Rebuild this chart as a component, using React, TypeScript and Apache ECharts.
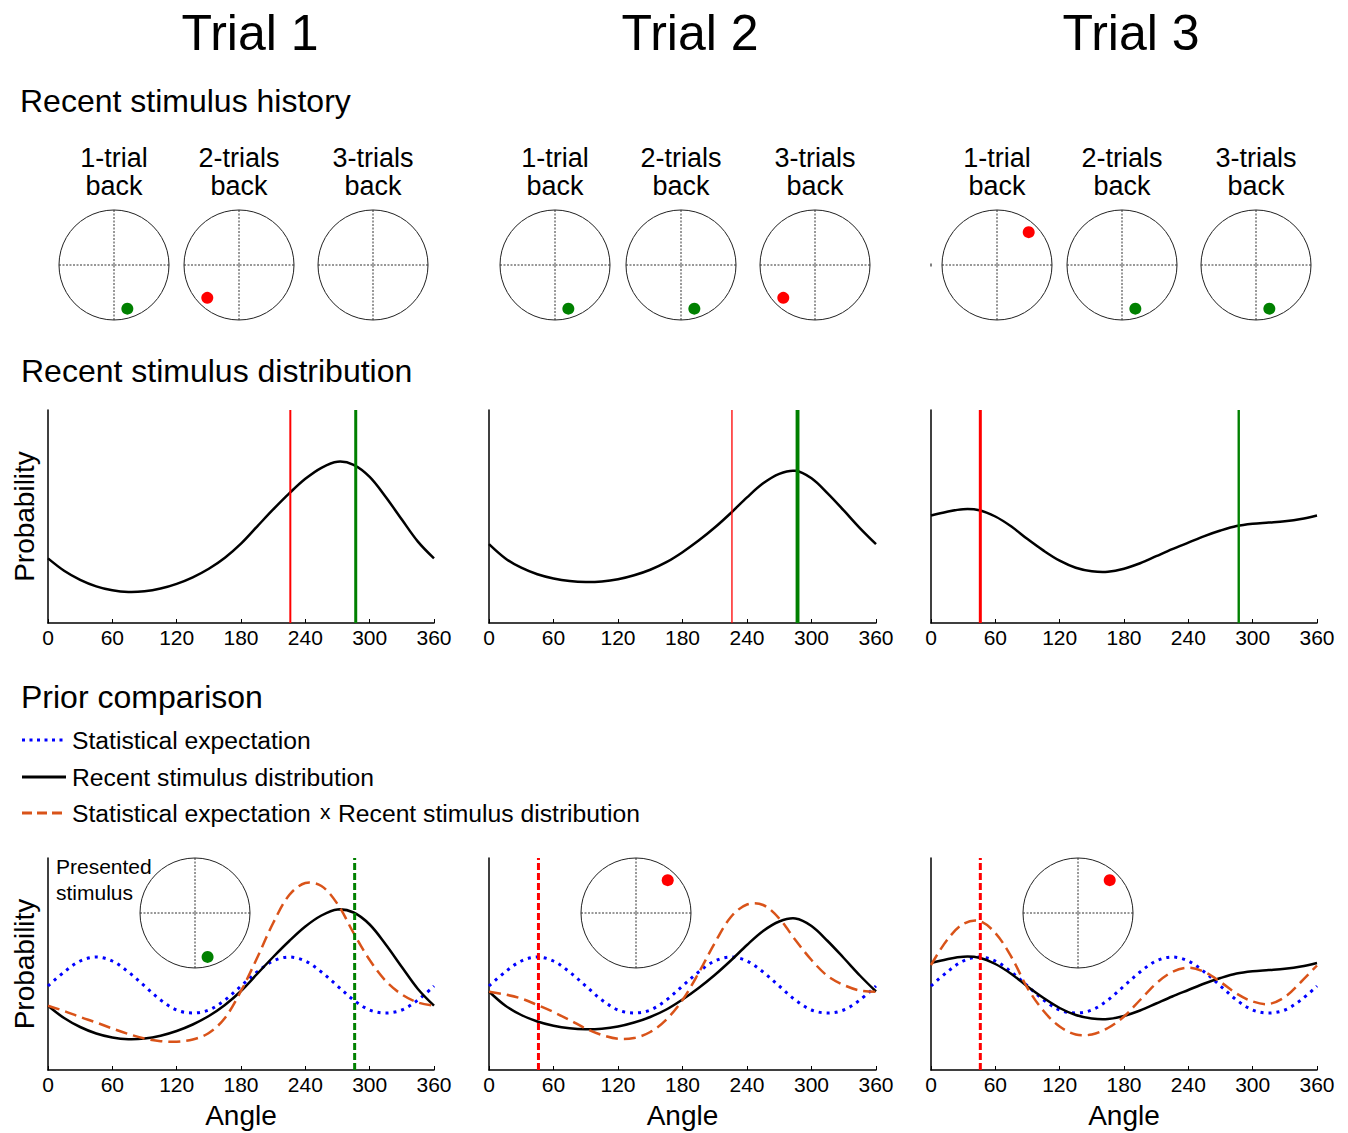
import { useEffect, useRef } from "react";
import * as echarts from "echarts";

const FONT = "'Liberation Sans', Arial, Helvetica, sans-serif";
const GREEN = "#008000";
const RED = "#ff0000";
const BLUE = "#0000ff";
const ORANGE = "#d95319";

const trialTitles = ["Trial 1", "Trial 2", "Trial 3"];
const historyLabels = ["1-trial\nback", "2-trials\nback", "3-trials\nback"];

// Stimulus angle (deg) shown 1, 2 and 3 trials back; null = nothing shown yet
const historyAngles: (number | null)[][] = [
  [287, 226, null],
  [287, 287, 226],
  [46, 287, 287],
];
// Angle presented on each trial
const presentedAngles = [286, 46, 46];

// Sample angles shared by every curve (deg)
const angles = [0, 15, 30, 45, 60, 75, 90, 105, 120, 135, 150, 165, 180, 195, 210, 225, 240, 255, 270, 285, 300, 315, 330, 345, 360];

// Recent stimulus distribution per trial
const recentValues1 = [64.3, 52, 43, 36.5, 32.5, 30.8, 31.5, 34.3, 39, 45.5, 54, 65, 79, 96, 113, 129, 143.5, 154.5, 160.5, 157.5, 145.5, 125.5, 103, 81, 64.3];
const recentValues2 = [78.5, 64.5, 55, 48.5, 44.3, 41.7, 40.7, 41.3, 43.5, 47.5, 53, 60.5, 70.5, 82, 95, 109.5, 125, 139, 148.5, 151.5, 144, 129, 112, 94.5, 78.5];
const recentValues3 = [107, 110.8, 113.3, 112.3, 106, 96, 83.5, 72, 62, 55, 51.5, 51, 54, 59.5, 66.5, 73.5, 80, 86.5, 92, 96.5, 98.8, 100, 101.3, 103.5, 107];

// Statistical expectation (same for every trial)
const expectationValues = [84, 98, 109, 113, 109, 98, 84, 70, 60, 57, 60, 70, 84, 98, 109, 113, 109, 98, 84, 70, 60, 57, 60, 70, 84];

// Statistical expectation x Recent stimulus distribution
const productValues1 = [64.3, 59, 53, 47.5, 41.5, 36, 31.5, 28.8, 28.3, 30.5, 37, 52, 79, 112, 147, 175, 187, 184, 166, 137, 110, 89, 75.5, 67.5, 64.3];
const productValues2 = [78.3, 75.5, 71.5, 65, 58, 50, 41.5, 35, 31.2, 32, 38, 50.5, 70, 97, 127, 153, 165.5, 165, 151.5, 130, 110, 94, 85, 79.5, 78.3];
const productValues3 = [105, 130, 146, 149, 137, 113, 82, 59, 43.5, 35.5, 35.5, 42, 53.5, 70, 86.5, 98, 102.3, 98, 88, 76.5, 68.5, 66, 73, 88, 104.5];

const recentValues = [recentValues1, recentValues2, recentValues3];
const productValues = [productValues1, productValues2, productValues3];

// Styling of the history marker lines, indexed like historyAngles
const markerWidths = [
  [3, 2, 0],
  [3.5, 3.5, 1.3],
  [3, 2, 2],
];
const stimulusColor = (deg: number) => (deg > 250 ? GREEN : RED);

const Y_MAX = 212;

// Layout
const colLeft = [48, 489, 931];
const colWidth = [386, 387, 386];
const rowTop = [410, 858];
const rowHeight = [213, 212];
const historyCircleX = [
  [114, 239, 373],
  [555, 681, 815],
  [997, 1122, 1256],
];
const historyCircleY = 265;
const insetCircleX = [195, 636, 1078];
const insetCircleY = 913;
const circleRadius = 55;
const dotRadiusFraction = 0.83;

// A smooth curve through (angle, value) samples, placed with the axis scales
const curve = (axisIdx: number, values: number[], style: any, z: number) => ({
  type: "custom",
  xAxisIndex: axisIdx,
  yAxisIndex: axisIdx,
  data: angles.map((a, i) => [a, values[i]]),
  encode: { x: 0, y: 1 },
  silent: true,
  z,
  renderItem: (params: any, api: any) => {
    if (params.dataIndex !== 0) return null;
    const points = angles.map((a, i) => api.coord([a, values[i]]));
    return {
      type: "polyline",
      silent: true,
      shape: { points, smooth: 0.34 },
      style: { fill: "none", lineCap: "butt", lineJoin: "round", ...style },
    };
  },
});

// Vertical marker at a stimulus angle spanning the whole plot height
const marker = (axisIdx: number, angle: number, style: any, z: number) => ({
  type: "line",
  xAxisIndex: axisIdx,
  yAxisIndex: axisIdx,
  data: [
    [angle, 0],
    [angle, Y_MAX],
  ],
  symbol: "none",
  silent: true,
  lineStyle: style,
  z,
});

function buildOption(): echarts.EChartsOption {
  const grid: any[] = [];
  const xAxis: any[] = [];
  const yAxis: any[] = [];
  const series: any[] = [];
  const polar: any[] = [];
  const angleAxis: any[] = [];
  const radiusAxis: any[] = [];
  const graphic: any[] = [];

  for (let r = 0; r < 2; r++) {
    for (let c = 0; c < 3; c++) {
      const idx = r * 3 + c;
      grid.push({ left: colLeft[c], top: rowTop[r], width: colWidth[c], height: rowHeight[r] });
      xAxis.push({
        gridIndex: idx,
        type: "value",
        min: 0,
        max: 360,
        interval: 60,
        axisLine: { show: true, onZero: false, lineStyle: { color: "#000", width: 1.5 } },
        axisTick: { show: true, inside: true, length: 4, lineStyle: { color: "#000", width: 1 } },
        axisLabel: { fontSize: 21, color: "#000", fontFamily: FONT, margin: 4 },
        splitLine: { show: false },
        name: r === 1 ? "Angle" : "",
        nameLocation: "middle",
        nameGap: 31,
        nameTextStyle: { fontSize: 28, color: "#000", fontFamily: FONT },
      });
      yAxis.push({
        gridIndex: idx,
        type: "value",
        min: 0,
        max: Y_MAX,
        axisLine: { show: true, onZero: false, lineStyle: { color: "#000", width: 1.5 } },
        axisTick: { show: false },
        axisLabel: { show: false },
        splitLine: { show: false },
        name: c === 0 ? "Probability" : "",
        nameLocation: "middle",
        nameGap: 10,
        nameTextStyle: { fontSize: 28, color: "#000", fontFamily: FONT },
      });
    }
  }

  // Recent stimulus distribution row
  for (let c = 0; c < 3; c++) {
    series.push(curve(c, recentValues[c], { stroke: "#000", lineWidth: 2.5 }, 2));
    historyAngles[c].forEach((a, k) => {
      if (a === null) return;
      series.push(marker(c, a, { color: stimulusColor(a), width: markerWidths[c][k], type: "solid" }, 3));
    });
  }

  // Prior comparison row
  for (let c = 0; c < 3; c++) {
    const idx = 3 + c;
    series.push(curve(idx, expectationValues, { stroke: BLUE, lineWidth: 3, lineDash: [3, 5] }, 2));
    series.push(curve(idx, recentValues[c], { stroke: "#000", lineWidth: 2.5 }, 3));
    series.push(curve(idx, productValues[c], { stroke: ORANGE, lineWidth: 2.5, lineDash: [12, 6] }, 4));
    series.push(
      marker(idx, presentedAngles[c], { color: stimulusColor(presentedAngles[c]), width: 3, type: [7, 3] }, 5)
    );
  }

  // Circular stimulus displays (polar coordinate systems)
  const addCircle = (cx: number, cy: number, angle: number | null) => {
    const p = polar.length;
    polar.push({ center: [cx, cy], radius: circleRadius });
    angleAxis.push({
      polarIndex: p,
      type: "value",
      min: 0,
      max: 360,
      interval: 90,
      startAngle: 0,
      clockwise: false,
      axisLine: { show: true, lineStyle: { color: "#222", width: 1 } },
      axisTick: { show: false },
      axisLabel: { show: false },
      splitLine: { show: true, lineStyle: { color: "#333", width: 1, type: [2, 1.5] } },
    });
    radiusAxis.push({
      polarIndex: p,
      type: "value",
      min: 0,
      max: 1,
      axisLine: { show: false },
      axisTick: { show: false },
      axisLabel: { show: false },
      splitLine: { show: false },
    });
    if (angle !== null) {
      series.push({
        type: "scatter",
        coordinateSystem: "polar",
        polarIndex: p,
        data: [[dotRadiusFraction, angle]],
        symbolSize: 12,
        silent: true,
        itemStyle: { color: stimulusColor(angle), opacity: 1 },
        z: 6,
      });
    }
  };
  for (let t = 0; t < 3; t++) {
    for (let k = 0; k < 3; k++) addCircle(historyCircleX[t][k], historyCircleY, historyAngles[t][k]);
  }
  for (let t = 0; t < 3; t++) addCircle(insetCircleX[t], insetCircleY, presentedAngles[t]);

  // Texts
  const text = (x: number, y: number, s: string, size: number, align = "left", extra: any = {}) => ({
    type: "text",
    x,
    y,
    silent: true,
    style: {
      text: s,
      fill: "#000",
      fontSize: size,
      fontFamily: FONT,
      align,
      textAlign: align,
      verticalAlign: "middle",
      textVerticalAlign: "middle",
      ...extra,
    },
  });
  const titleX = [250, 690, 1131];
  trialTitles.forEach((t, i) => graphic.push(text(titleX[i], 33, t, 50, "center")));
  graphic.push(text(20, 101, "Recent stimulus history", 32));
  graphic.push(text(21, 371, "Recent stimulus distribution", 32));
  graphic.push(text(21, 697, "Prior comparison", 32));
  for (let t = 0; t < 3; t++) {
    for (let k = 0; k < 3; k++) {
      graphic.push(text(historyCircleX[t][k], 172, historyLabels[k], 27, "center", { lineHeight: 28 }));
    }
  }
  graphic.push(text(56, 879, "Presented\nstimulus", 21, "left", { lineHeight: 26 }));

  // Legend
  graphic.push({ type: "line", silent: true, shape: { x1: 22, y1: 740, x2: 66, y2: 740 }, style: { stroke: BLUE, lineWidth: 3, lineDash: [3, 4.5] } });
  graphic.push({ type: "line", silent: true, shape: { x1: 22, y1: 777, x2: 66, y2: 777 }, style: { stroke: "#000", lineWidth: 3 } });
  graphic.push({ type: "line", silent: true, shape: { x1: 22, y1: 813, x2: 66, y2: 813 }, style: { stroke: ORANGE, lineWidth: 3, lineDash: [10, 5] } });
  graphic.push(text(72, 740, "Statistical expectation", 24.7));
  graphic.push(text(72, 777, "Recent stimulus distribution", 24.7));
  graphic.push(text(72, 813, "Statistical expectation", 24.7));
  graphic.push(text(320, 811, "x", 21));
  graphic.push(text(338, 813, "Recent stimulus distribution", 24.7));

  // small stray tick beside the first Trial 3 display
  graphic.push({ type: "rect", silent: true, shape: { x: 930.5, y: 263.5, width: 1, height: 3 }, style: { fill: "#000" } });

  return {
    animation: false,
    backgroundColor: "#fff",
    grid,
    xAxis,
    yAxis,
    polar,
    angleAxis,
    radiusAxis,
    series,
    graphic,
  } as any;
}

export default function App() {
  const ref = useRef<HTMLDivElement>(null);
  useEffect(() => {
    if (!ref.current) return;
    const chart = echarts.init(ref.current, null, { renderer: "svg" });
    chart.setOption(buildOption());
    return () => chart.dispose();
  }, []);
  return (
    <div
      ref={ref}
      style={{ position: "absolute", left: 0, top: 0, width: 1348, height: 1133, background: "#fff" }}
    />
  );
}
